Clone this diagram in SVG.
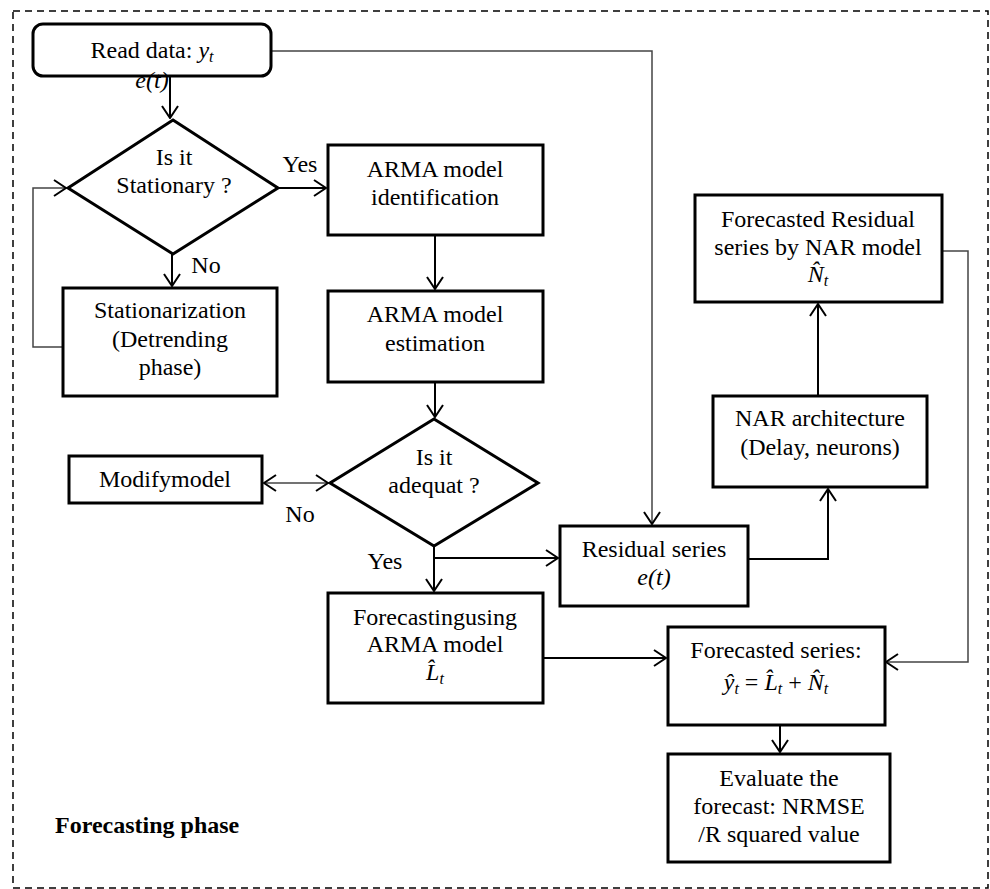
<svg xmlns="http://www.w3.org/2000/svg" width="990" height="889" viewBox="0 0 990 889">
<style>
.box{fill:#fff;stroke:#000;stroke-width:3}
.t{font-family:"Liberation Serif","Times New Roman",serif;font-size:24px;fill:#000;text-anchor:middle}
.lbl{font-family:"Liberation Serif","Times New Roman",serif;font-size:24px;fill:#000;text-anchor:middle}
.mi{font-style:italic}
.up{font-style:normal}
.sub{font-size:16px;font-style:italic}
.c{fill:none;stroke:#000;stroke-width:2;marker-end:url(#ah)}
.cg{fill:none;stroke:#444;stroke-width:1.5;marker-end:url(#ah)}
</style>
<defs>
<marker id="ah" viewBox="0 0 14 18" refX="13" refY="9" markerWidth="14" markerHeight="18" markerUnits="userSpaceOnUse" orient="auto-start-reverse">
<path d="M1,1 L13,9 L1,17" fill="none" stroke="#000" stroke-width="2"/>
</marker>
</defs>
<rect x="13" y="11" width="975" height="877" fill="none" stroke="#000" stroke-width="1.5" stroke-dasharray="7,5"/>

<g id="connectors">
<path class="c" d="M170,76 V118"/>
<path class="c" d="M278,188 H326"/>
<path class="c" d="M172,254 V286"/>
<path class="cg" d="M63,347 H33 V188 H66"/>
<path class="c" d="M435,235 V289"/>
<path class="c" d="M435,382 V417"/>
<path class="cg" d="M264,483 H328" style="marker-start:url(#ah)"/>
<path class="c" d="M434,546 V591"/>
<path class="c" d="M434,558 H558"/>
<path class="cg" d="M271,51 H652 V524"/>
<path class="c" d="M748,559 H828 V489"/>
<path class="c" d="M818,396 V304"/>
<path class="cg" d="M942,251 H968 V662 H886"/>
<path class="c" d="M543,658 H666"/>
<path class="c" d="M780,725 V752"/>
<text class="lbl" x="300" y="172">Yes</text>
<text class="lbl" x="206" y="273">No</text>
<text class="lbl" x="300" y="522">No</text>
<text class="lbl" x="385" y="569">Yes</text>
</g>

<g id="read-data">
<rect class="box" x="33" y="24" width="238" height="52" rx="10" stroke-width="2.5"/>
<text class="t" x="152" y="58">Read data: <tspan class="mi">y</tspan><tspan class="sub" dy="4">t</tspan></text>
<text class="t mi" x="152" y="88">e(t)</text>
</g>

<g id="stationary">
<polygon class="box" points="173,120 278,188 173,254 68,188"/>
<text class="t" x="174" y="165">Is it</text>
<text class="t" x="174" y="193">Stationary ?</text>
</g>

<g id="stationarization">
<rect class="box" x="63" y="288" width="214" height="108"/>
<text class="t" x="170" y="318">Stationarization</text>
<text class="t" x="170" y="347">(Detrending</text>
<text class="t" x="170" y="375">phase)</text>
</g>

<g id="arma-id">
<rect class="box" x="328" y="145" width="215" height="90"/>
<text class="t" x="435" y="177">ARMA model</text>
<text class="t" x="435" y="205">identification</text>
</g>

<g id="arma-est">
<rect class="box" x="328" y="291" width="215" height="91"/>
<text class="t" x="435" y="322">ARMA model</text>
<text class="t" x="435" y="351">estimation</text>
</g>

<g id="adequat">
<polygon class="box" points="434,419 538,483 434,546 330,483"/>
<text class="t" x="434" y="465">Is it</text>
<text class="t" x="434" y="493">adequat ?</text>
</g>

<g id="modify">
<rect class="box" x="69" y="456" width="193" height="47"/>
<text class="t" x="165" y="487">Modifymodel</text>
</g>

<g id="forecasting-arma">
<rect class="box" x="328" y="593" width="215" height="110"/>
<text class="t" x="435" y="625">Forecastingusing</text>
<text class="t" x="435" y="652">ARMA model</text>
<text class="t" x="435" y="680"><tspan class="mi">L̂</tspan><tspan class="sub" dy="4">t</tspan></text>
</g>

<g id="residual">
<rect class="box" x="560" y="526" width="188" height="80"/>
<text class="t" x="654" y="557">Residual series</text>
<text class="t mi" x="654" y="585">e(t)</text>
</g>

<g id="nar">
<rect class="box" x="713" y="396" width="214" height="91"/>
<text class="t" x="820" y="426">NAR architecture</text>
<text class="t" x="820" y="455">(Delay, neurons)</text>
</g>

<g id="forecasted-residual">
<rect class="box" x="695" y="195" width="247" height="107"/>
<text class="t" x="818" y="227">Forecasted Residual</text>
<text class="t" x="818" y="255">series by NAR model</text>
<text class="t" x="818" y="282"><tspan class="mi">N̂</tspan><tspan class="sub" dy="4">t</tspan></text>
</g>

<g id="forecasted-series">
<rect class="box" x="668" y="627" width="217" height="98"/>
<text class="t" x="776" y="658">Forecasted series:</text>
<text class="t" x="776" y="690"><tspan class="mi">ŷ</tspan><tspan class="sub" dy="4">t</tspan><tspan class="up" dy="-4"> =  </tspan><tspan class="mi">L̂</tspan><tspan class="sub" dy="4">t</tspan><tspan class="up" dy="-4"> + </tspan><tspan class="mi">N̂</tspan><tspan class="sub" dy="4">t</tspan></text>
</g>

<g id="evaluate">
<rect class="box" x="668" y="754" width="222" height="108"/>
<text class="t" x="779" y="786">Evaluate the</text>
<text class="t" x="779" y="814">forecast: NRMSE</text>
<text class="t" x="779" y="842">/R squared value</text>
</g>

<g id="phase-label">
<text x="55" y="833" font-family="Liberation Serif, Times New Roman, serif" font-size="24" font-weight="bold">Forecasting phase</text>
</g>
</svg>
